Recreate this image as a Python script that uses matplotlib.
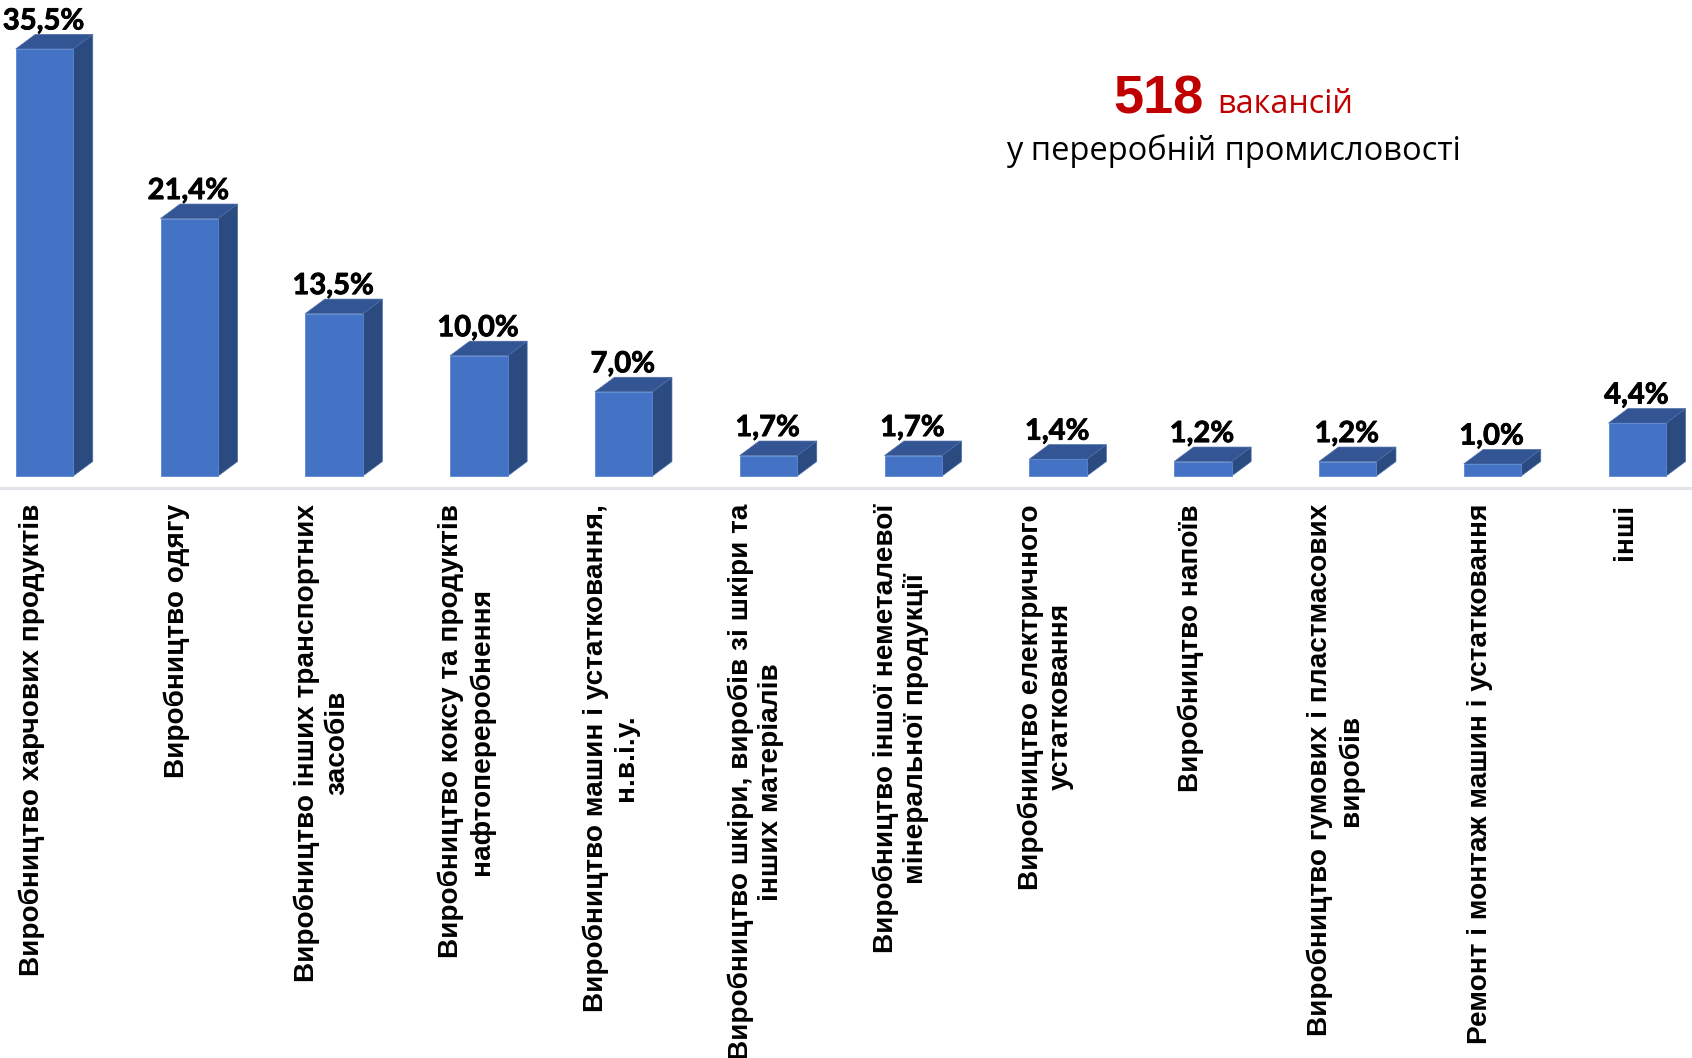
import matplotlib
matplotlib.use("Agg")
import matplotlib.pyplot as plt
import matplotlib.patheffects as pe
from matplotlib.patches import Polygon

categories = [
    'Виробництво харчових продуктів',
    'Виробництво одягу',
    'Виробництво інших транспортних\nзасобів',
    'Виробництво коксу та продуктів\nнафтопереробнення',
    'Виробництво машин і устатковання,\nн.в.і.у.',
    'Виробництво шкіри, виробів зі шкіри та\nінших матеріалів',
    'Виробництво іншої неметалевої\nмінеральної продукції',
    'Виробництво електричного\nустатковання',
    'Виробництво напоїв',
    'Виробництво гумових і пластмасових\nвиробів',
    'Ремонт і монтаж машин і устатковання',
    'інші',
]
values = [35.5, 21.4, 13.5, 10.0, 7.0, 1.7, 1.7, 1.4, 1.2, 1.2, 1.0, 4.4]
labels = ['35,5%', '21,4%', '13,5%', '10,0%', '7,0%', '1,7%', '1,7%', '1,4%', '1,2%', '1,2%', '1,0%', '4,4%']

W, H = 1692, 1058
# pixels per unit
xscale = 144.8
yscale = 12.03
x0px = 44.5
y0px = 476.0
dx = 19.5 / xscale
dy = 14.5 / yscale
width = 57.5 / xscale

front = '#4472C4'
side = '#2B4A80'
top = '#335594'

fig = plt.figure(figsize=(W / 100, H / 100), dpi=100)
ax = fig.add_axes([0, 0, 1, 1])
ax.set_xlim(-x0px / xscale, (W - x0px) / xscale)
ax.set_ylim(-(H - y0px) / yscale, y0px / yscale)
ax.axis('off')

for i, v in enumerate(values):
    l = i - width / 2
    r = i + width / 2
    ax.bar(i, v, width=width, color=front, edgecolor='#5B86D0', linewidth=0.6, zorder=3)
    ax.add_patch(Polygon([(r, 0), (r + dx, dy), (r + dx, v + dy), (r, v)], facecolor=side, edgecolor='#4A6CA8', linewidth=0.5, zorder=2))
    ax.add_patch(Polygon([(l, v), (l + dx, v + dy), (r + dx, v + dy), (r, v)], facecolor=top, edgecolor='#4A6CA8', linewidth=0.5, zorder=2))
    ax.text(i - 1.0 / xscale, v + 1.62, labels[i], ha='center', va='baseline', fontsize=21, fontweight='bold', family='Lato', color='black',
            path_effects=[pe.withStroke(linewidth=0.6, foreground='black')])
    ax.text(i - 12.5 / xscale, -28.0 / yscale, categories[i], rotation=90, ha='center', va='top', multialignment='center',
            fontsize=20.2, fontweight='bold', family='Liberation Sans', color='black', linespacing=1.2)

ax.axhline(-12.0 / yscale, color='#E1E4E9', linewidth=2.2, zorder=1)

fig.text(1158.5 / W, 1 - 114 / H, '518', ha='center', va='baseline', fontsize=39, fontweight='bold', family='Liberation Sans', color='#C00000')
fig.text(1285.5 / W, 1 - 113 / H, 'вакансій', ha='center', va='baseline', fontsize=23.3, family='Open Sans', color='#C00000')
fig.text(1233 / W, 1 - 160 / H, 'у переробній промисловості', ha='center', va='baseline', fontsize=23.5, family='Open Sans', color='black')

fig.savefig('out.png', dpi=100)
